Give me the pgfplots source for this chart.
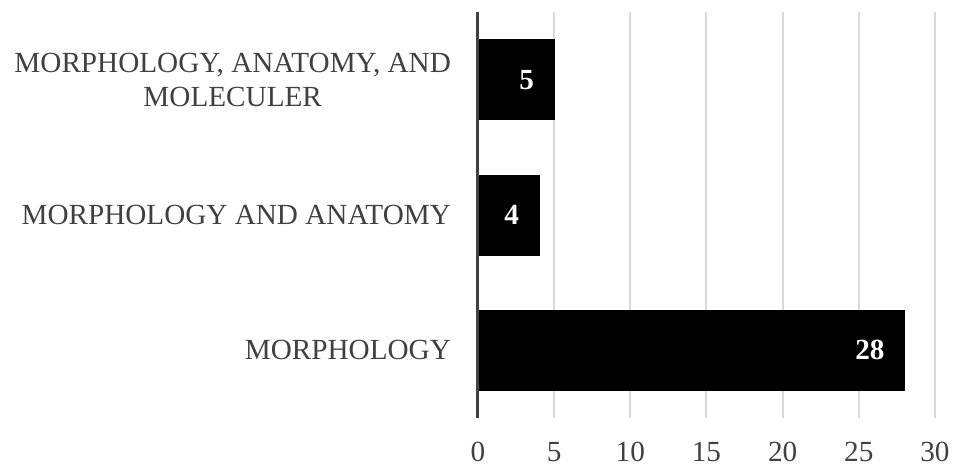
\documentclass[border=0pt]{standalone}
\usepackage{fontspec}
\setmainfont{Liberation Serif}
\usepackage{pgfplots}
\pgfplotsset{compat=1.18}
\definecolor{txt}{HTML}{404040}
\definecolor{gridc}{HTML}{D9D9D9}
\begin{document}
\begin{tikzpicture}
\useasboundingbox (0,0) rectangle (482.5pt,235.5pt);
\begin{axis}[
  at={(239pt,26.5pt)}, anchor=south west,
  scale only axis, width=228.5pt, height=203pt,
  xbar, bar width=0.59,
  xmin=0, xmax=30, ymin=-0.5, ymax=2.5,
  xtick={0,5,...,30}, ytick={0,1,2},
  yticklabels={{MORPHOLOGY}, {MORPHOLOGY AND ANATOMY}, {MORPHOLOGY, ANATOMY, AND\\MOLECULER}},
  yticklabel style={align=center, text=txt, font=\fontsize{14.6}{17}\selectfont, xshift=-10pt},
  xticklabel style={text=txt, font=\fontsize{14.6}{17}\selectfont, inner sep=1pt, yshift=-11pt},
  /pgf/number format/assume math mode=true,
  major tick length=0pt,
  axis line style={draw=none},
  xmajorgrids, grid style={gridc, line width=1pt},
  nodes near coords,
  nodes near coords style={white, font=\fontsize{14.6}{17}\selectfont\bfseries, anchor=east, xshift=-6.5pt},
  clip=false,
]
\addplot[fill=black, draw=black] coordinates {(28,0) (4,1) (5,2)};
\draw[txt, line width=1.5pt] (axis cs:0,-0.5) -- (axis cs:0,2.5);
\end{axis}
\end{tikzpicture}
\end{document}
